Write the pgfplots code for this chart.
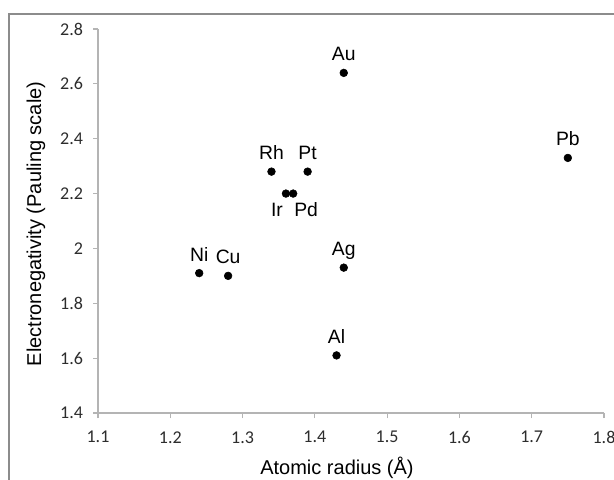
\documentclass[border=0pt]{standalone}
\usepackage{fontspec}
\setmainfont{Liberation Sans}
\newfontfamily\carlito{Carlito}
\usepackage{pgfplots}
\pgfplotsset{compat=1.18}
\definecolor{axgray}{RGB}{180,180,180}
\definecolor{framegray}{RGB}{140,140,140}
\definecolor{ticktext}{RGB}{45,45,45}
\begin{document}
\begin{tikzpicture}
\clip (0,0) rectangle (460.5pt,359.25pt);
\fill[white] (0,0) rectangle (460.5pt,359.25pt);
% chart area border (right and bottom lie outside the picture)
\draw[framegray, line width=1.1pt] (6.75pt,-20pt) -- (6.75pt,348.75pt) -- (480pt,348.75pt);

\begin{axis}[
    at={(73.5pt,49.5pt)}, anchor=origin,
    scale only axis,
    width=379.5pt, height=288pt,
    xmin=1.1, xmax=1.8,
    ymin=1.4, ymax=2.8,
    xtick={1.1,1.2,1.3,1.4,1.5,1.6,1.7,1.8},
    ytick={1.4,1.6,1.8,2,2.2,2.4,2.6,2.8},
    axis x line*=bottom, axis y line*=left,
    axis line style={-, axgray, line width=0.9pt},
    tick align=outside,
    major tick length=3.75pt,
    tick style={axgray, line width=0.9pt},
    xtick pos=bottom, ytick pos=left,
    ticklabel style={font=\carlito\fontsize{13.5}{15}\selectfont, text=ticktext},
    /pgf/number format/assume math mode=true,
    yticklabel style={xshift=-4pt},
    xticklabel style={yshift=-6.5pt},
    clip=false,
]
\addplot[only marks, mark=*, mark size=2.9pt, black] coordinates {
    (1.24,1.91) (1.28,1.90) (1.34,2.28) (1.39,2.28) (1.36,2.20)
    (1.37,2.20) (1.44,2.64) (1.44,1.93) (1.43,1.61) (1.75,2.33)
};
\begin{scope}[every node/.style={font=\fontsize{14.5}{16}\selectfont, anchor=base, inner sep=0pt}]
\node at (axis cs:1.24,1.91) [yshift=9pt] {Ni};
\node at (axis cs:1.28,1.90) [yshift=9pt] {Cu};
\node at (axis cs:1.34,2.28) [yshift=9pt] {Rh};
\node at (axis cs:1.39,2.28) [yshift=9pt] {Pt};
\node at (axis cs:1.44,2.64) [yshift=9pt] {Au};
\node at (axis cs:1.44,1.93) [yshift=9pt] {Ag};
\node at (axis cs:1.43,1.61) [yshift=9pt] {Al};
\node at (axis cs:1.75,2.33) [yshift=9pt] {Pb};
\node at (axis cs:1.36,2.20) [yshift=-17pt, xshift=-6.75pt] {Ir};
\node at (axis cs:1.37,2.20) [yshift=-17pt, xshift=9.75pt] {Pd};
\end{scope}
\end{axis}

\node[anchor=base, font=\fontsize{15}{18}\selectfont] at (252.75pt,3.75pt) {Atomic radius (Å)};
\node[anchor=base, rotate=90, font=\fontsize{15}{18}\selectfont] at (30.75pt,191.25pt) {Electronegativity (Pauling scale)};
\end{tikzpicture}
\end{document}
